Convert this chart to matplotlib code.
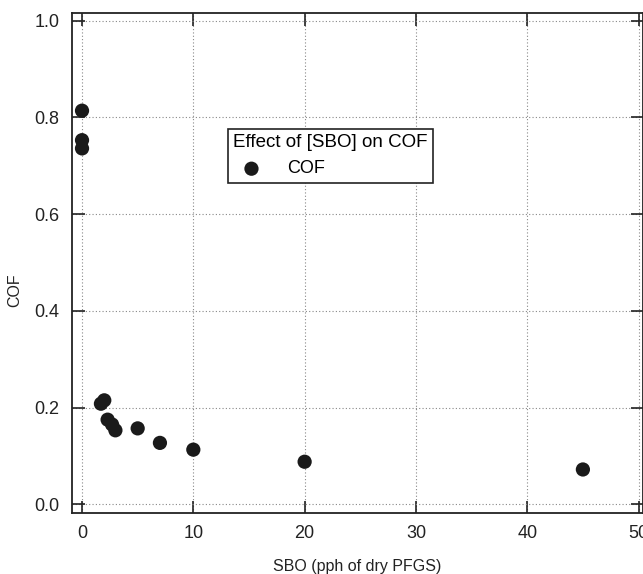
import matplotlib
matplotlib.use("Agg")
import matplotlib.pyplot as plt

# SBO loading (pph of dry PFGS) vs coefficient of friction
sbo = [0, 0, 0, 1.7, 2.0, 2.3, 2.7, 3.0, 5, 7, 10, 20, 45]
cof = [0.814, 0.753, 0.736, 0.208, 0.215, 0.175, 0.165, 0.153, 0.157, 0.127, 0.113, 0.088, 0.072]

x_ticks = [0, 10, 20, 30, 40, 50]
y_ticks = [0.0, 0.2, 0.4, 0.6, 0.8, 1.0]

plt.rcParams["font.family"] = ["Liberation Sans", "DejaVu Sans"]

W, H = 643, 574
fig = plt.figure(figsize=(W / 100, H / 100), dpi=100)
ax = fig.add_axes([72 / W, 1 - 513 / H, (W - 72) / W, (513 - 13) / H])

ax.scatter(sbo, cof, s=105, color="#1a1a1a", edgecolors="none", zorder=3, label="COF")

ax.set_xlim(-0.9, 50.4)
ax.set_ylim(-0.018, 1.016)
ax.set_xticks(x_ticks)
ax.set_yticks(y_ticks)
ax.set_yticklabels([f"{v:.1f}" for v in y_ticks])
ax.grid(True, color="#888888", linestyle=(0, (1, 2)), linewidth=0.8)
ax.tick_params(direction="in", length=9, width=1.2, top=True, right=True,
               labelsize=13, colors="#222222", pad=9)
for sp in ax.spines.values():
    sp.set_linewidth(1.3)
    sp.set_color("#222222")

ax.set_xlabel("SBO (pph of dry PFGS)", fontsize=11.5, color="#222222", labelpad=12)
fig.text(15 / W, 1 - 290 / H, "COF", rotation=90, fontsize=11.5, color="#222222",
         ha="center", va="center")

leg = ax.legend(title="Effect of [SBO] on COF", loc="upper left",
                bbox_to_anchor=(228 / W, 1 - 129 / H), bbox_transform=fig.transFigure,
                fancybox=False, edgecolor="#222222", framealpha=1, fontsize=13,
                title_fontsize=13.5, alignment="left", borderpad=0.3,
                handletextpad=1.0, borderaxespad=0)
leg.get_frame().set_linewidth(1.2)

fig.savefig("out.png", dpi=100)
